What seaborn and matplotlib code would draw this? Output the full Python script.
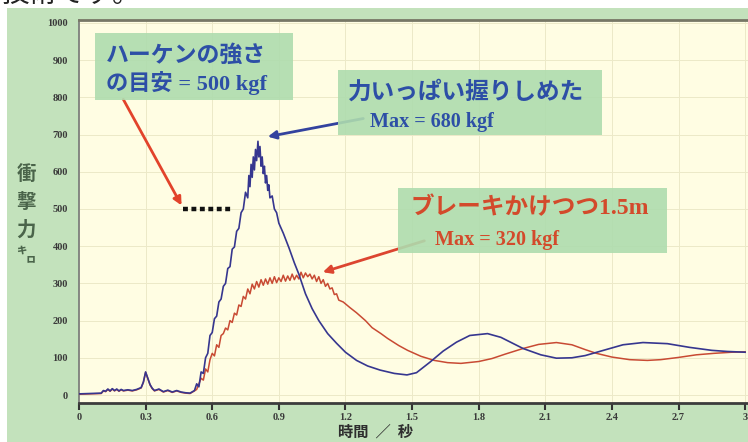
import matplotlib
matplotlib.use("Agg")
import matplotlib.pyplot as plt
import pandas as pd
import seaborn as sns
from matplotlib.patches import Rectangle

# --- data (time in s, force in kgf) ---
t_early = [0.00, 0.05, 0.10, 0.11, 0.12, 0.13, 0.14, 0.15, 0.16, 0.17, 0.18, 0.19,
           0.20, 0.22, 0.24, 0.26, 0.28, 0.29, 0.30, 0.31, 0.32, 0.33, 0.34, 0.36,
           0.38, 0.40, 0.42, 0.44, 0.46, 0.48, 0.50, 0.52]
f_early = [3, 4, 5, 12, 10, 16, 11, 17, 12, 16, 11, 15,
           12, 14, 12, 15, 20, 35, 62, 45, 28, 18, 12, 16,
           9, 13, 8, 12, 8, 6, 5, 12]

t_grip = [0.53, 0.54, 0.55, 0.56, 0.57, 0.58, 0.59, 0.60, 0.61, 0.62, 0.63, 0.64,
          0.65, 0.66, 0.67, 0.68, 0.69, 0.70, 0.71, 0.72, 0.73, 0.74, 0.75, 0.76,
          0.765, 0.77, 0.775, 0.78, 0.785, 0.79, 0.795, 0.80, 0.806, 0.81, 0.815,
          0.82, 0.825, 0.83, 0.835, 0.84, 0.845, 0.85, 0.855, 0.86, 0.87, 0.88,
          0.89, 0.90, 0.92, 0.946, 0.97, 0.99, 1.02, 1.05, 1.08, 1.12, 1.16, 1.20,
          1.25, 1.30, 1.356, 1.42, 1.477, 1.52, 1.58, 1.64, 1.70, 1.76, 1.84, 1.90,
          1.95, 2.00, 2.08, 2.15, 2.22, 2.28, 2.35, 2.45, 2.54, 2.65, 2.75, 2.85,
          2.92, 3.00]
f_grip = [30, 22, 62, 58, 100, 112, 160, 168, 205, 212, 250, 258,
          292, 300, 340, 345, 392, 398, 440, 448, 490, 500, 545, 530,
          590, 560, 620, 585, 640, 605, 660, 630, 682, 640, 668,
          615, 640, 595, 615, 570, 590, 550, 565, 530, 535, 500,
          490, 462, 435, 395, 355, 325, 272, 232, 200, 165, 139, 115,
          93, 78, 67, 58, 54, 60, 88, 118, 142, 160, 165, 155,
          140, 125, 108, 99, 100, 106, 118, 135, 141, 138, 128, 120,
          117, 115]

t_brake = [0.53, 0.54, 0.55, 0.56, 0.57, 0.58, 0.59, 0.60, 0.61, 0.62,
           0.63, 0.64, 0.65, 0.66, 0.67, 0.68, 0.69, 0.70, 0.71, 0.72,
           0.73, 0.74, 0.75, 0.76, 0.77, 0.78, 0.79, 0.80, 0.81, 0.82,
           0.83, 0.84, 0.85, 0.86, 0.87, 0.88, 0.89, 0.90, 0.91, 0.92,
           0.93, 0.94, 0.95, 0.96, 0.97, 0.98, 0.99, 1.00, 1.01, 1.02,
           1.03, 1.04, 1.05, 1.06, 1.07, 1.08, 1.09, 1.10, 1.11, 1.12,
           1.13, 1.14, 1.15, 1.16, 1.17, 1.19, 1.22, 1.25, 1.29, 1.32,
           1.36, 1.39, 1.44, 1.48, 1.54, 1.60, 1.66, 1.72, 1.80, 1.86,
           1.92, 2.00, 2.07, 2.15, 2.22, 2.28, 2.33, 2.40, 2.48, 2.56,
           2.62, 2.70, 2.78, 2.86, 2.94, 3.00]
f_brake = [15, 30, 45, 40, 70, 62, 95, 112, 105, 135,
           128, 160, 165, 180, 175, 200, 195, 220, 215, 242,
           238, 265, 258, 285, 272, 298, 285, 305, 290, 310,
           295, 312, 298, 315, 300, 318, 302, 315, 305, 322,
           306, 320, 308, 325, 310, 322, 312, 330, 315, 328,
           318, 325, 312, 322, 305, 318, 300, 310, 292, 300,
           285, 288, 270, 272, 255, 250, 235, 221, 200, 181,
           165, 152, 133, 120, 104, 93, 87, 85, 90, 98,
           110, 125, 136, 141, 135, 122, 112, 102, 95, 93,
           95, 101, 108, 112, 115, 116]

x_ticks = [0, 0.3, 0.6, 0.9, 1.2, 1.5, 1.8, 2.1, 2.4, 2.7, 3.0]
x_ticklabels = ["0", "0.3", "0.6", "0.9", "1.2", "1.5", "1.8", "2.1", "2.4", "2.7", "3"]
y_ticks = [0, 100, 200, 300, 400, 500, 600, 700, 800, 900, 1000]

guide_t = [0.468, 0.69]      # dotted "haken strength" guide
guide_f = [500, 500]
grip_peak = (0.838, 693)
brake_peak = (1.086, 328)
guide_tip = (0.468, 503)

grip = pd.DataFrame({"t": t_early + t_grip, "f": f_early + f_grip})
brake = pd.DataFrame({"t": t_early + t_brake, "f": [v - 1 for v in f_early] + f_brake})

W, H = 748, 442
JP = ["Noto Sans CJK JP", "DejaVu Sans"]
SERIF_JP = ["Liberation Serif", "Noto Sans CJK JP"]


def fx(px):
    return px / W


def fy(py):
    return 1 - py / H


fig = plt.figure(figsize=(W / 100, H / 100), dpi=100, facecolor="white")

# green backdrop, white strip on top/left
fig.add_artist(Rectangle((fx(7), 0), 1, fy(8), transform=fig.transFigure,
                         facecolor="#c3e2bc", edgecolor="none", zorder=0))
fig.text(fx(2), fy(8.5), "技術です。", fontsize=20, family=JP, color="#222222",
         va="bottom", ha="left", zorder=1)

ax = fig.add_axes([fx(79), fy(403), fx(748) - fx(79), fy(20) - fy(403)])
ax.set_facecolor("#fffde3")

sns.lineplot(data=brake, x="t", y="f", ax=ax, color="#c84a33", lw=1.1,
             estimator=None, sort=False, zorder=3)
sns.lineplot(data=grip, x="t", y="f", ax=ax, color="#36368f", lw=1.2,
             estimator=None, sort=False, zorder=4)
sns.lineplot(x=guide_t, y=guide_f, ax=ax, color="#111111", lw=3.2,
             dashes=False, zorder=5).lines[-1].set_dashes([1.1, 0.8])

ax.set_xlim(0, 3.013)
ax.set_ylim(-21.5, 1008)
ax.set_xticks(x_ticks)
ax.set_xticklabels(x_ticklabels)
ax.set_yticks(y_ticks)
ax.grid(True, color="#ece9c8", lw=0.7)
ax.set_axisbelow(True)
ax.set_xlabel("")
ax.set_ylabel("")
for lbl in ax.get_xticklabels() + ax.get_yticklabels():
    lbl.set_family("Liberation Serif")
    lbl.set_weight("bold")
    lbl.set_fontsize(7.5)
    lbl.set_color("#3a3a3a")
ax.tick_params(axis="x", length=5, width=1.5, color="#333333", pad=2)
ax.tick_params(axis="y", length=0, pad=8)
ax.spines["right"].set_visible(False)
ax.spines["left"].set_color("#777777")
ax.spines["left"].set_linewidth(1.2)
ax.spines["bottom"].set_color("#3c3c3c")
ax.spines["bottom"].set_linewidth(2)
ax.spines["top"].set_color("#777766")
ax.spines["top"].set_linewidth(2)

# axis titles
fig.text(fx(375), fy(432), "時間  ／  秒", fontsize=11, family=JP, weight="bold",
         color="#2e2e2e", ha="center", va="center")
fig.text(fx(26), fy(216), "衝\n撃\n力\n㌔", fontsize=14, family=JP, weight="bold",
         color="#4a644a", ha="center", va="center", linespacing=1.55)

# annotation boxes
box_color = "#aedcae"
for (x0, y0, x1, y1) in [(95, 33, 293, 100), (338, 70, 602, 135), (398, 188, 667, 253)]:
    fig.add_artist(Rectangle((fx(x0), fy(y1)), fx(x1) - fx(x0), fy(y0) - fy(y1),
                             transform=fig.transFigure, facecolor=box_color,
                             edgecolor="none", alpha=0.9, zorder=6))

blue_txt = "#2d4fa6"
red_txt = "#d34a2b"
fig.text(fx(106), fy(55), "ハーケンの強さ", fontsize=16.5, family=JP, weight="bold",
         color=blue_txt, va="center", zorder=7)
fig.text(fx(106), fy(83), "の目安 = 500 kgf", fontsize=16, family=SERIF_JP, weight="bold",
         color=blue_txt, va="center", zorder=7)
fig.text(fx(348), fy(92), "力いっぱい握りしめた", fontsize=17, family=JP, weight="bold",
         color=blue_txt, va="center", zorder=7)
fig.text(fx(370), fy(122), "Max = 680 kgf", fontsize=14.5, family=SERIF_JP, weight="bold",
         color=blue_txt, va="center", zorder=7)
fig.text(fx(411), fy(208), "ブレーキかけつつ1.5m", fontsize=17, family=SERIF_JP,
         weight="bold", color=red_txt, va="center", zorder=7)
fig.text(fx(435), fy(240), "Max = 320 kgf", fontsize=14.5, family=SERIF_JP, weight="bold",
         color=red_txt, va="center", zorder=7)

# arrows
ax.annotate("", xy=guide_tip, xytext=(fx(122), fy(97)), textcoords="figure fraction",
            arrowprops=dict(arrowstyle="-|>", color="#e2432b", lw=2, mutation_scale=12),
            zorder=8)
ax.annotate("", xy=grip_peak, xytext=(fx(366), fy(118)), textcoords="figure fraction",
            arrowprops=dict(arrowstyle="-|>", color="#33429e", lw=2, mutation_scale=12),
            zorder=8)
ax.annotate("", xy=brake_peak, xytext=(fx(427), fy(240)), textcoords="figure fraction",
            arrowprops=dict(arrowstyle="-|>", color="#dc4530", lw=2, mutation_scale=12),
            zorder=8)

fig.savefig("out.png", dpi=100, facecolor=fig.get_facecolor())
